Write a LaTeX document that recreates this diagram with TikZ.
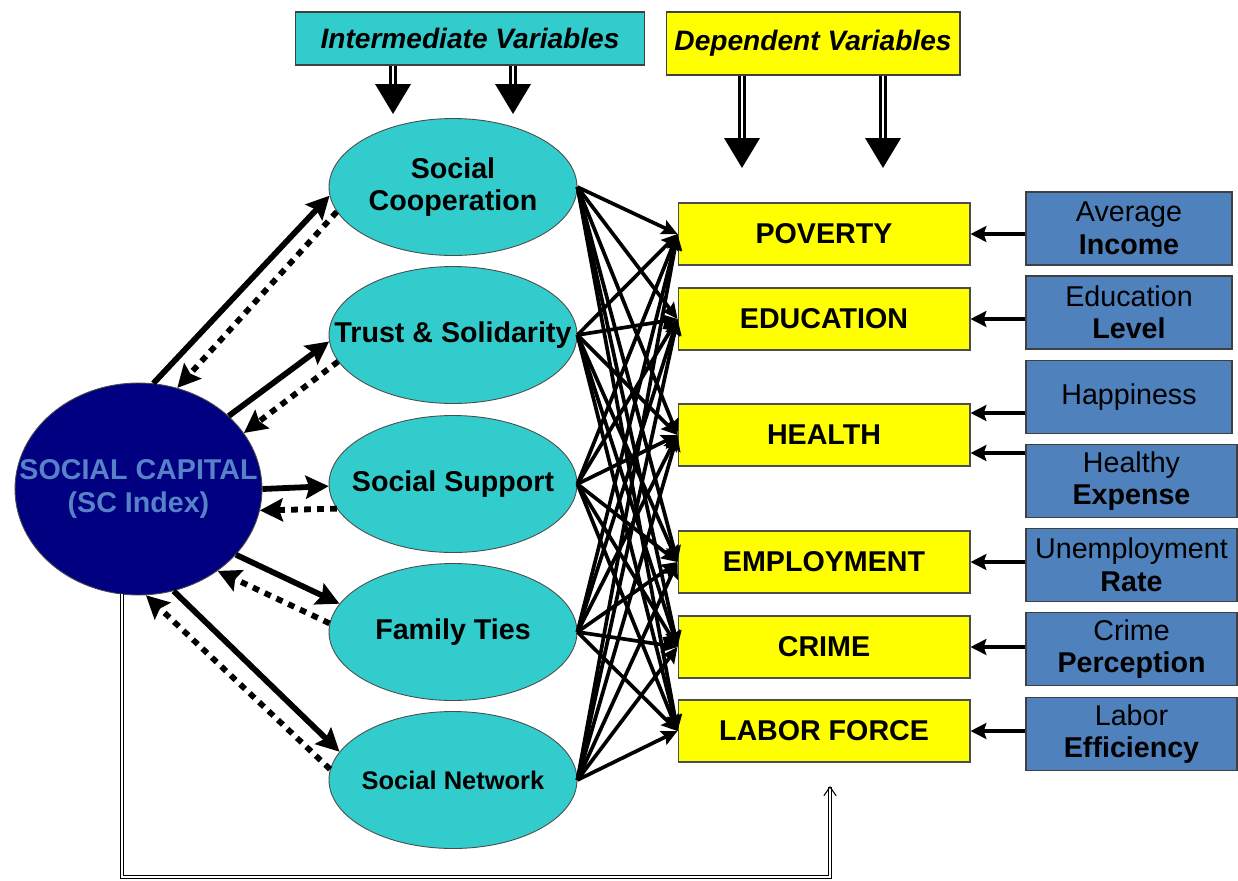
\documentclass[tikz,border=0pt]{standalone}
\usepackage{fontspec}
\setmainfont{Liberation Sans}
\usetikzlibrary{arrows.meta,shapes.geometric}
\definecolor{tealfill}{RGB}{51,204,204}
\definecolor{yellowfill}{RGB}{255,255,0}
\definecolor{navyfill}{RGB}{0,0,128}
\definecolor{steelfill}{RGB}{79,129,189}
\definecolor{sctext}{RGB}{88,130,200}
\tikzset{
	headbox/.style={draw=black!75, line width=0.6pt, inner sep=0pt, font=\bfseries\itshape\fontsize{16}{18.5}\selectfont},
	mediator/.style={ellipse, draw=black!70, line width=0.5pt, fill=tealfill, minimum width=4.96cm, minimum height=2.74cm, inner sep=0pt},
	medtext/.style={align=center, inner sep=0pt, font=\bfseries\fontsize{16.3}{18.5}\selectfont},
	outcome/.style={draw=black!70, line width=0.6pt, fill=yellowfill, minimum width=5.84cm, minimum height=1.24cm, font=\bfseries\fontsize{16.3}{18.5}\selectfont},
	indicator/.style={draw=black!75, line width=0.8pt, fill=steelfill, minimum width=4.12cm, minimum height=1.46cm, align=center, inner sep=0pt, font=\fontsize{16.3}{18.5}\selectfont},
	link/.style={line width=2.1pt, -{Stealth[length=9pt,width=8.5pt,inset=1.5pt]}},
	cue/.style={line width=2.2pt, -{Stealth[length=9pt,width=9pt,inset=1.5pt]}},
	fwd/.style={line width=3.3pt, -{Stealth[length=13pt,width=13pt,inset=2pt]}},
	back/.style={line width=3.3pt, dash pattern=on 3.8pt off 3.6pt, -{Stealth[length=13pt,width=13pt,inset=2pt]}},
	bigarrow/.style={double, double distance=1.1pt, line width=1.6pt, -{Triangle[length=17pt,width=20pt]}},
	feedback/.style={double, double distance=1.4pt, line width=0.6pt, -{Straight Barb[length=5pt,width=7pt]}},
}

\begin{document}
\begin{tikzpicture}[x=0.02cm, y=-0.02cm]
			%%%%% START %%%%%
			\useasboundingbox (0,0) rectangle (1238,880);
			
			% headers
			\node[headbox, fill=tealfill, minimum width=7cm, minimum height=1.06cm] (interm) at (470,38.5) {Intermediate Variables};
			\node[headbox, fill=yellowfill, minimum width=5.88cm, minimum height=1.26cm] (depend) at (813,43.5) {Dependent Variables};
			
			% social capital
			\node[ellipse, draw=black!70, line width=0.5pt, fill=navyfill, minimum width=4.94cm, minimum height=4.24cm, inner sep=0pt,
				label={[medtext, text=sctext]center:SOCIAL CAPITAL\\(SC Index)}] (scap) at (138.5,489) {};
			
			% intermediate variables
			\node[mediator, label={[medtext]center:Social\\Cooperation}] (coop) at (453,187) {};
			\node[mediator, label={[medtext]center:Trust \& Solidarity}] (trust) at (453,335) {};
			\node[mediator, label={[medtext]center:Social Support}] (supp) at (453,484) {};
			\node[mediator, label={[medtext]center:Family Ties}] (fam) at (453,632) {};
			\node[mediator, label={[medtext, font=\bfseries\fontsize{14.5}{17}\selectfont]center:Social Network}] (net) at (453,780) {};
			
			% dependent variables
			\node[outcome] (pov) at (824,234) {POVERTY};
			\node[outcome] (edu) at (824,319) {EDUCATION};
			\node[outcome] (hlth) at (824,435) {HEALTH};
			\node[outcome] (emp) at (824,562) {EMPLOYMENT};
			\node[outcome] (crime) at (824,647) {CRIME};
			\node[outcome] (labor) at (824,731) {LABOR FORCE};
			
			% indicators
			\node[indicator] (inc) at (1129,228.5) {Average\\\textbf{Income}};
			\node[indicator] (edlev) at (1129,312.5) {Education\\\textbf{Level}};
			\node[indicator] (happy) at (1129,397) {Happiness};
			\node[indicator, minimum width=4.22cm] (hexp) at (1131.5,481) {Healthy\\\textbf{Expense}};
			\node[indicator, minimum width=4.22cm] (unemp) at (1131.5,565) {Unemployment\\\textbf{Rate}};
			\node[indicator, minimum width=4.22cm] (crper) at (1131.5,649) {Crime\\\textbf{Perception}};
			\node[indicator, minimum width=4.22cm] (leff) at (1131.5,734) {Labor\\\textbf{Efficiency}};
			
			% header arrows
			\coordinate (ia1) at (393,114);
			\coordinate (ia2) at (513,114);
			\coordinate (da1) at (742,168);
			\coordinate (da2) at (883,168);
			\draw[bigarrow] (interm.south -| ia1) -- (ia1);
			\draw[bigarrow] (interm.south -| ia2) -- (ia2);
			\draw[bigarrow] (depend.south -| da1) -- (da1);
			\draw[bigarrow] (depend.south -| da2) -- (da2);
			
			% social capital <-> intermediate
			\draw[fwd] (scap.82) -- (coop.184);
			\draw[back] (coop.192) -- (scap.69);
			\draw[fwd] (scap.39) -- (trust.183);
			\draw[back] (trust.193) -- (scap.28);
			\draw[fwd] (scap.0) -- (supp.181);
			\draw[back] (supp.192) -- (scap.-10);
			\draw[fwd] (scap.-34) -- (fam.166);
			\draw[back] (fam.176) -- (scap.-46);
			\draw[fwd] (scap.-71) -- (net.166);
			\draw[back] (net.175) -- (scap.-86);
			
			% intermediate -> dependent
			\foreach \src in {coop,trust,supp,fam,net}
				\foreach \dst in {pov,edu,hlth,emp,crime,labor}
					\draw[link] (\src.east) -- (\dst.west);
			
			% indicators -> dependent
			\coordinate (h1) at ([yshift=0.44cm]hlth.east);
			\coordinate (h2) at ([yshift=-0.36cm]hlth.east);
			\draw[cue] (inc.west |- pov.east) -- (pov.east);
			\draw[cue] (edlev.west |- edu.east) -- (edu.east);
			\draw[cue] (happy.west |- h1) -- (h1);
			\draw[cue] (hexp.west |- h2) -- (h2);
			\draw[cue] (unemp.west |- emp.east) -- (emp.east);
			\draw[cue] (crper.west |- crime.east) -- (crime.east);
			\draw[cue] (leff.west |- labor.east) -- (labor.east);
			
			% feedback
			\coordinate (fb) at (830,786);
			\draw[feedback] (scap.-99) |- (830,877) -- (fb);
			
			%%%%% END %%%%%
\end{tikzpicture}
\end{document}
